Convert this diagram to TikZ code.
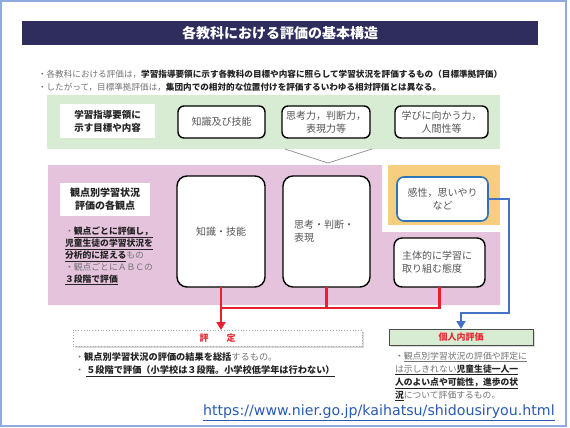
\documentclass[tikz,border=0pt]{standalone}
\usepackage{fontspec}
\setmainfont{Noto Sans CJK JP}
\newfontfamily\urlfont{DejaVu Sans}
\usetikzlibrary{arrows.meta}
\definecolor{navy}{RGB}{47,45,94}
\definecolor{bandgreen}{RGB}{216,236,211}
\definecolor{bandpink}{RGB}{229,195,221}
\definecolor{bandorange}{RGB}{247,205,128}
\definecolor{lred}{RGB}{234,30,45}
\definecolor{tred}{RGB}{230,45,50}
\definecolor{lblue}{RGB}{68,114,196}
\definecolor{kblue}{RGB}{46,117,182}
\definecolor{tgray}{RGB}{115,115,115}
\definecolor{tbox}{RGB}{85,85,85}
\definecolor{tdark}{RGB}{35,35,35}
\definecolor{framecol}{RGB}{143,170,220}
\definecolor{urlcol}{RGB}{40,90,180}
\definecolor{chev}{RGB}{140,140,140}
\newcommand{\jfs}[2]{\fontsize{#1}{#2}\selectfont}
\begin{document}
\begin{tikzpicture}[x=1pt,y=-1pt,
  plain/.style={inner sep=0pt, outer sep=0pt},
  whitebox/.style={plain, fill=white, text=tdark, font=\bfseries\jfs{10}{12.5}, align=center},
  rbox/.style={plain, draw=black, line width=1.4pt, fill=white, text=tbox, font=\jfs{10}{13}},
  redline/.style={draw=lred, line width=2.6pt},
  blueline/.style={draw=lblue, line width=2.4pt},
  txt/.style={plain, anchor=west, align=left, text=tdark}
]
\useasboundingbox (0,0) rectangle (570,428);
\draw[framecol, line width=1.5pt] (1,1) rectangle (566,426);

% title
\node[plain, fill=navy, minimum width=516pt, minimum height=24pt, text=white,
      font=\bfseries\jfs{14}{14}] (title) at (280,33) {各教科における評価の基本構造};

% intro
\node[txt, font=\jfs{8.6}{13}] (intro) at (38,80.5)
 {\textcolor{tgray}{・各教科における評価は，}{\bfseries 学習指導要領に示す各教科の目標や内容に照らして学習状況を評価するもの（目標準拠評価）}\\
  \textcolor{tgray}{・したがって，目標準拠評価は，}{\bfseries 集団内での相対的な位置付けを評価するいわゆる相対評価とは異なる。}};

% green band
\node[plain, fill=bandgreen, minimum width=453pt, minimum height=54pt] (band) at (273.5,122) {};
\node[whitebox, minimum width=95pt, minimum height=34pt, font=\bfseries\jfs{9.5}{13}] (mokuhyo) at (107.5,121) {学習指導要領に\\示す目標や内容};
\node[rbox, rounded corners=6pt, minimum width=87pt, minimum height=32pt] (t1) at (221.5,122) {知識及び技能};
\node[rbox, rounded corners=6pt, minimum width=88pt, minimum height=32pt, align=center] (t2) at (326,122) {思考力，判断力，\\表現力等};
\node[rbox, rounded corners=6pt, minimum width=93pt, minimum height=32pt, align=center] (t3) at (441.5,122) {学びに向かう力，\\人間性等};

% chevron
\coordinate (cv1) at (285,149);
\coordinate (cv2) at (328,163);
\coordinate (cv3) at (372,149);
\draw[chev, line width=0.7pt] (cv1) -- (cv2) -- (cv3);

% pink region
\fill[bandpink] (48,165) -- (382,165) -- (382,232) -- (500,232) -- (500,305) -- (48,305) -- cycle;
% orange
\node[plain, fill=bandorange, minimum width=112pt, minimum height=60pt] (orange) at (444,195) {};

\node[whitebox, minimum width=90pt, minimum height=33pt] (kanten) at (105,199) {観点別学習状況\\評価の各観点};
\node[txt, font=\jfs{8.8}{12}] (kdesc) at (65,256)
 {\textcolor{tgray}{・}\underline{\bfseries 観点ごとに評価し，}\\
  \underline{\bfseries 児童生徒の学習状況を}\\
  \underline{\bfseries 分析的に捉える}\textcolor{tgray}{もの}\\
  \textcolor{tgray}{・観点ごとにＡＢＣの}\\
  \underline{\bfseries ３段階で評価}};

\node[rbox, rounded corners=10pt, minimum width=88pt, minimum height=111pt] (k1) at (221,231.5) {知識・技能};
\node[rbox, rounded corners=10pt, minimum width=87pt, minimum height=111pt] (k2) at (326.5,231.5) {};
\node[plain, text=tbox, font=\jfs{10}{13}, align=left, anchor=west] (k2t) at (k2.west) [xshift=11pt] {思考・判断・\\表現};
\node[rbox, rounded corners=8pt, minimum width=91pt, minimum height=49pt] (k3) at (439.5,262.5) {};
\node[plain, text=tbox, font=\jfs{10}{13}, align=left, anchor=west] (k3t) at (k3.west) [xshift=8pt] {主体的に学習に\\取り組む態度};
\node[rbox, draw=kblue, line width=1.6pt, rounded corners=7pt, minimum width=91pt, minimum height=44pt, align=center] (kansei) at (442.5,199) {感性，思いやり\\など};

% red connectors
\coordinate (jr) at (439.5,308);
\coordinate (jl) at (221,308);
\draw[redline] (k1.south) -- (jl) -- (jr) -- (k3.south);
\draw[redline] (k2.south) -- (k2.south |- jr);

% hyotei box
\fill[gray!30] (74.5,331.5) rectangle (363.5,347.5);
\node[plain, draw=gray!70, dotted, line width=0.8pt, fill=white, minimum width=289pt, minimum height=16pt,
      text=tred, font=\bfseries\jfs{9}{9}] (hyotei) at (217.5,338) {評\hspace{18pt}定};
\draw[redline, -{Triangle[width=9pt,length=8pt]}] (jl) -- (jl |- hyotei.north);

\node[txt, font=\jfs{9.2}{13}] (hdesc) at (75,364.5)
 {\textcolor{tgray}{・}{\bfseries 観点別学習状況の評価の結果を総括}\textcolor{tgray}{するもの。}\\
  \textcolor{tgray}{・ }\underline{\bfseries ５段階で評価（小学校は３段階。小学校低学年は行わない）}};

% kojinnai box
\fill[gray!30] (390.5,330.5) rectangle (534.5,346.5);
\node[plain, draw=black!70, line width=0.8pt, fill=bandgreen, minimum width=144pt, minimum height=16pt,
      text=tred, font=\bfseries\jfs{9}{9}] (kojin) at (461,337) {個人内評価};
\coordinate (bc) at (509,313);
\draw[blueline, -{Triangle[width=9pt,length=8pt]}] (kansei.east) -| (bc) -| (kojin.north);

\node[txt, font=\jfs{8.8}{13}] (kdesc2) at (395,376.5)
 {\textcolor{tgray}{・\underline{観点別学習状況の評価や評定に}}\\
  \underline{\textcolor{tgray}{は示しきれない}\bfseries 児童生徒一人一}\\
  \underline{\bfseries 人のよい点や可能性，進歩の状}\\
  \underline{\bfseries 況}\textcolor{tgray}{について評価するもの。}};

% url
\node[plain, anchor=west, text=urlcol, font=\urlfont\fontsize{14.2}{14.2}\selectfont] (url) at (203,413)
 {\underline{https://www.nier.go.jp/kaihatsu/shidousiryou.html}};
\end{tikzpicture}
\end{document}
